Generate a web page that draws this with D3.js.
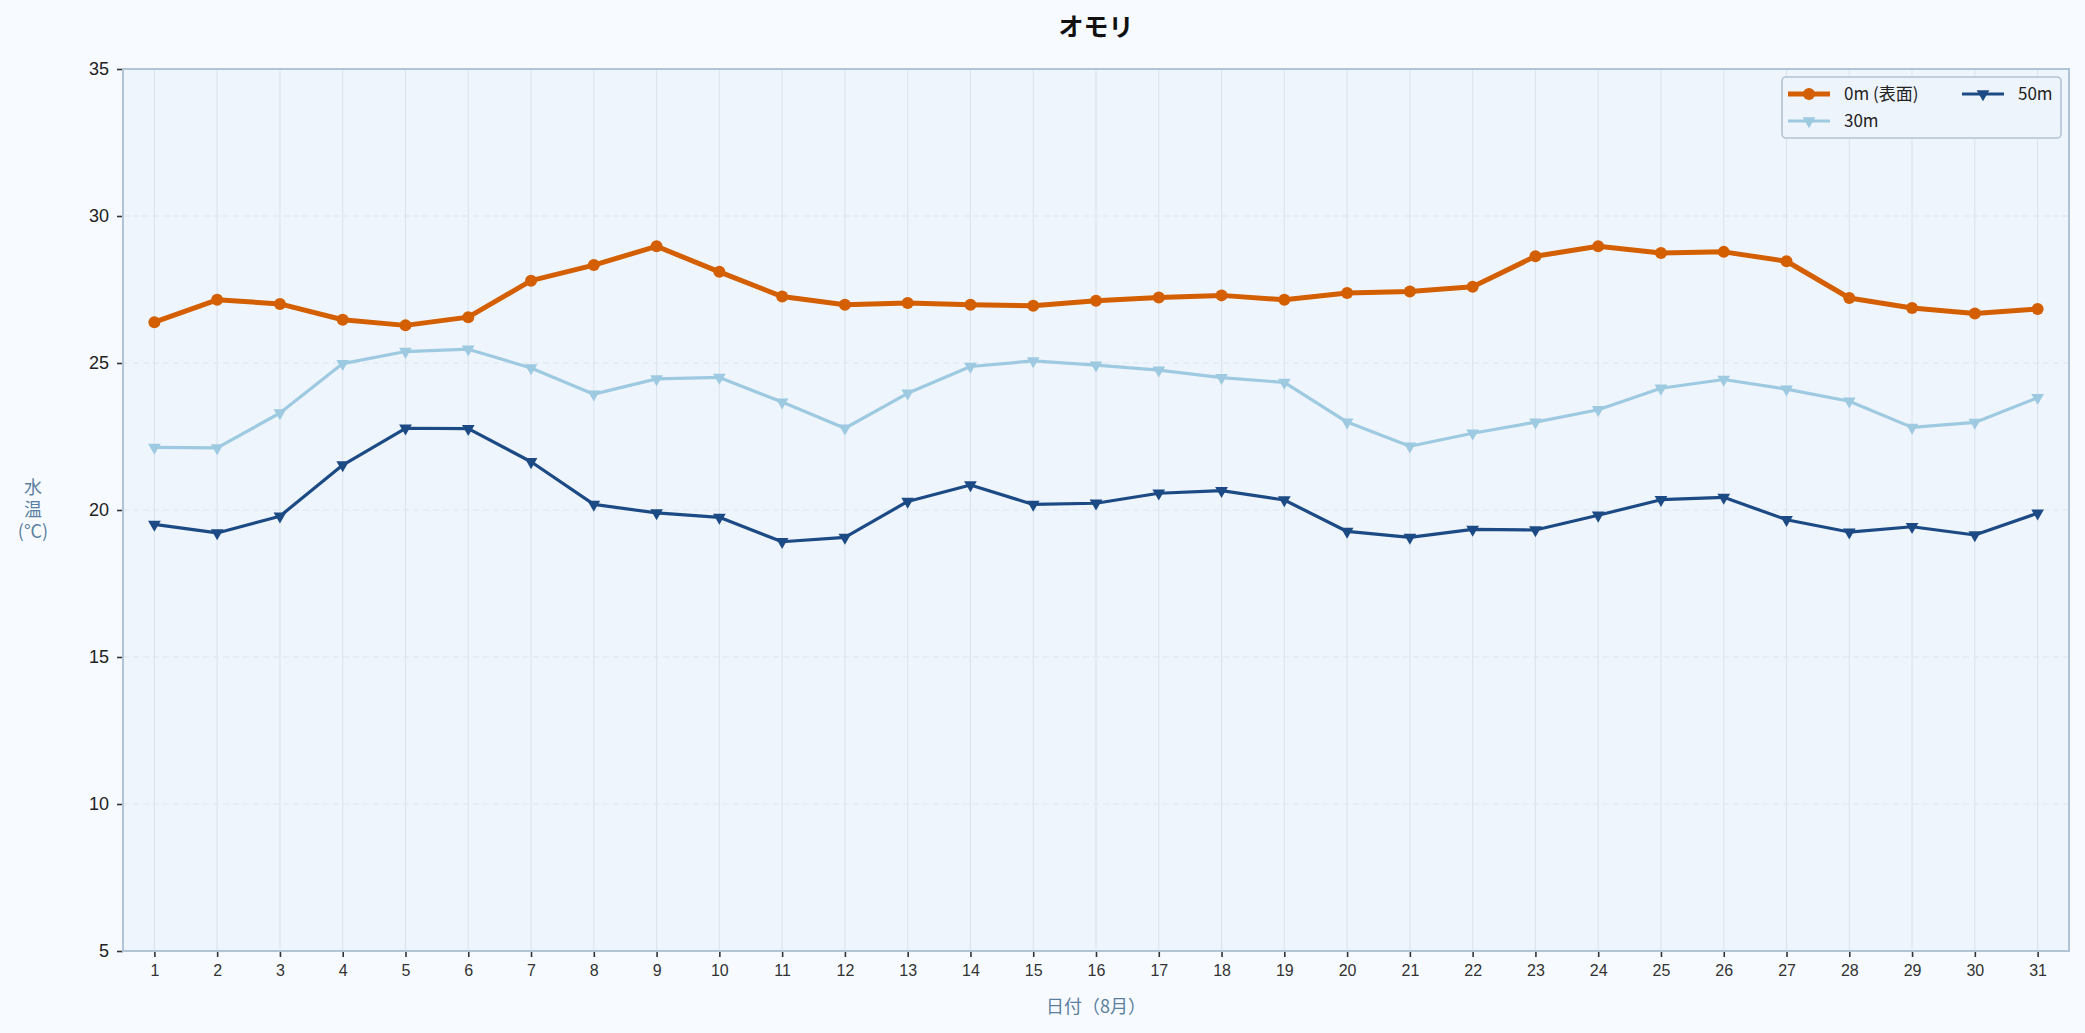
<!DOCTYPE html>
<html lang="ja">
<head>
<meta charset="UTF-8">
<title>オモリ</title>
<style>
  body { margin: 0; background: #f7fbff; }
  svg { display: block; font-family: "Noto Sans CJK JP", "Noto Sans", sans-serif; }
</style>
</head>
<body>
<script src="https://cdn.jsdelivr.net/npm/d3@7"></script>
<script>
// 日付（8月）
var days = d3.range(1, 32);
var temp0m = [26.39, 27.15, 27.01, 26.47, 26.28, 26.56, 27.80, 28.33, 28.97, 28.10,
              27.26, 26.98, 27.04, 26.98, 26.95, 27.12, 27.23, 27.30, 27.15, 27.38,
              27.43, 27.59, 28.63, 28.97, 28.74, 28.78, 28.46, 27.21, 26.87, 26.68, 26.84];
var temp30m = [22.13, 22.11, 23.30, 24.98, 25.39, 25.47, 24.83, 23.94, 24.46, 24.51,
               23.67, 22.78, 23.97, 24.88, 25.07, 24.93, 24.76, 24.50, 24.34, 22.99,
               22.17, 22.61, 22.99, 23.41, 24.14, 24.44, 24.11, 23.70, 22.81, 22.98, 23.82];
var temp50m = [19.51, 19.22, 19.79, 21.53, 22.78, 22.77, 21.64, 20.19, 19.90, 19.75,
               18.92, 19.07, 20.29, 20.85, 20.19, 20.23, 20.57, 20.66, 20.34, 19.27,
               19.07, 19.34, 19.32, 19.82, 20.35, 20.43, 19.67, 19.25, 19.43, 19.15, 19.89];
var yTicks = [5, 10, 15, 20, 25, 30, 35];

var series = [
  {name: "0m (表面)", values: temp0m, color: "#d35f00", width: 5, marker: "circle"},
  {name: "30m", values: temp30m, color: "#9ecae1", width: 3.2, marker: "tri"},
  {name: "50m", values: temp50m, color: "#1c4a85", width: 3.2, marker: "tri"}
];

var W = 2085, H = 1033;
var m = {left: 123, right: 16, top: 69, bottom: 82};

var svg = d3.select("body").append("svg").attr("width", W).attr("height", H);
svg.append("rect").attr("width", W).attr("height", H).attr("fill", "#f7fbff");

var x = d3.scaleLinear().domain([0.5, 31.5]).range([m.left, W - m.right]);
var y = d3.scaleLinear().domain([5, 35]).range([H - m.bottom, m.top]);

// plot background
svg.append("rect")
  .attr("x", x(0.5)).attr("y", y(35))
  .attr("width", x(31.5) - x(0.5)).attr("height", y(5) - y(35))
  .attr("fill", "#eff5fc");

// grid
svg.append("g").selectAll("line").data(days).join("line")
  .attr("x1", d => x(d)).attr("x2", d => x(d))
  .attr("y1", y(35)).attr("y2", y(5))
  .attr("stroke", "#dce5ef").attr("stroke-width", 1.2);
svg.append("g").selectAll("line").data(yTicks.slice(1, -1)).join("line")
  .attr("x1", x(0.5)).attr("x2", x(31.5))
  .attr("y1", d => y(d)).attr("y2", d => y(d))
  .attr("stroke", "#dce5ef").attr("stroke-width", 1.2).attr("stroke-dasharray", "6,4");

// axes
var xAxis = svg.append("g").attr("transform", "translate(0," + y(5) + ")")
  .call(d3.axisBottom(x).tickValues(days).tickFormat(d3.format("d")).tickSize(6).tickPadding(8));
var yAxis = svg.append("g").attr("transform", "translate(" + x(0.5) + ",0)")
  .call(d3.axisLeft(y).tickValues(yTicks).tickSize(6).tickPadding(8));
xAxis.selectAll("text").attr("font-size", 16).attr("fill", "#333");
yAxis.selectAll("text").attr("font-size", 18).attr("fill", "#222");
svg.selectAll(".tick line").attr("stroke", "#333").attr("stroke-width", 1.6);
svg.selectAll(".domain").remove();

// spines
svg.append("rect")
  .attr("x", x(0.5)).attr("y", y(35))
  .attr("width", x(31.5) - x(0.5)).attr("height", y(5) - y(35))
  .attr("fill", "none").attr("stroke", "#b1c4d5").attr("stroke-width", 2);

// lines
var line = d3.line().x((d, i) => x(days[i])).y(d => y(d));
var tri = d3.symbol().type(d3.symbolTriangle).size(70);

series.forEach(function(s) {
  var g = svg.append("g");
  g.append("path").datum(s.values).attr("d", line)
    .attr("fill", "none").attr("stroke", s.color).attr("stroke-width", s.width)
    .attr("stroke-linejoin", "round");
  if (s.marker == "circle") {
    g.selectAll("circle").data(s.values).join("circle")
      .attr("cx", (d, i) => x(days[i])).attr("cy", d => y(d))
      .attr("r", 6).attr("fill", s.color);
  } else {
    g.selectAll("path.mk").data(s.values).join("path").attr("class", "mk")
      .attr("d", tri)
      .attr("transform", (d, i) => "translate(" + x(days[i]) + "," + y(d) + ") rotate(180)")
      .attr("fill", s.color);
  }
});

// title (centred over the axes)
svg.append("text").attr("x", x(16)).attr("y", 36)
  .attr("text-anchor", "middle").attr("font-size", 25).attr("font-weight", "bold")
  .attr("fill", "#111").text("オモリ");

// axis labels
svg.append("text").attr("x", x(16)).attr("y", 1013)
  .attr("text-anchor", "middle").attr("font-size", 18).attr("fill", "#5b7fa0")
  .text("日付（8月）");
var yl = svg.append("text").attr("text-anchor", "middle").attr("font-size", 18).attr("fill", "#5b7fa0");
["水", "温", "(°C)"].forEach(function(t, i) {
  yl.append("tspan").attr("x", 33).attr("y", 494 + i * 22).text(t);
});

// legend
var lg = svg.append("g");
lg.append("rect").attr("x", 1782).attr("y", 77).attr("width", 279).attr("height", 61)
  .attr("rx", 4).attr("fill", "#eef4fb").attr("stroke", "#b1c4d5").attr("stroke-width", 1.6);
var pos = [[1788, 94], [1788, 121], [1962, 94]];
series.forEach(function(s, i) {
  var px = pos[i][0], py = pos[i][1];
  lg.append("line").attr("x1", px).attr("x2", px + 42).attr("y1", py).attr("y2", py)
    .attr("stroke", s.color).attr("stroke-width", s.width);
  if (s.marker == "circle") {
    lg.append("circle").attr("cx", px + 21).attr("cy", py).attr("r", 6).attr("fill", s.color);
  } else {
    lg.append("path").attr("d", tri)
      .attr("transform", "translate(" + (px + 21) + "," + py + ") rotate(180)")
      .attr("fill", s.color);
  }
  lg.append("text").attr("x", px + 56).attr("y", py + 6)
    .attr("font-size", 17).attr("fill", "#222").text(s.name);
});
</script>
</body>
</html>
